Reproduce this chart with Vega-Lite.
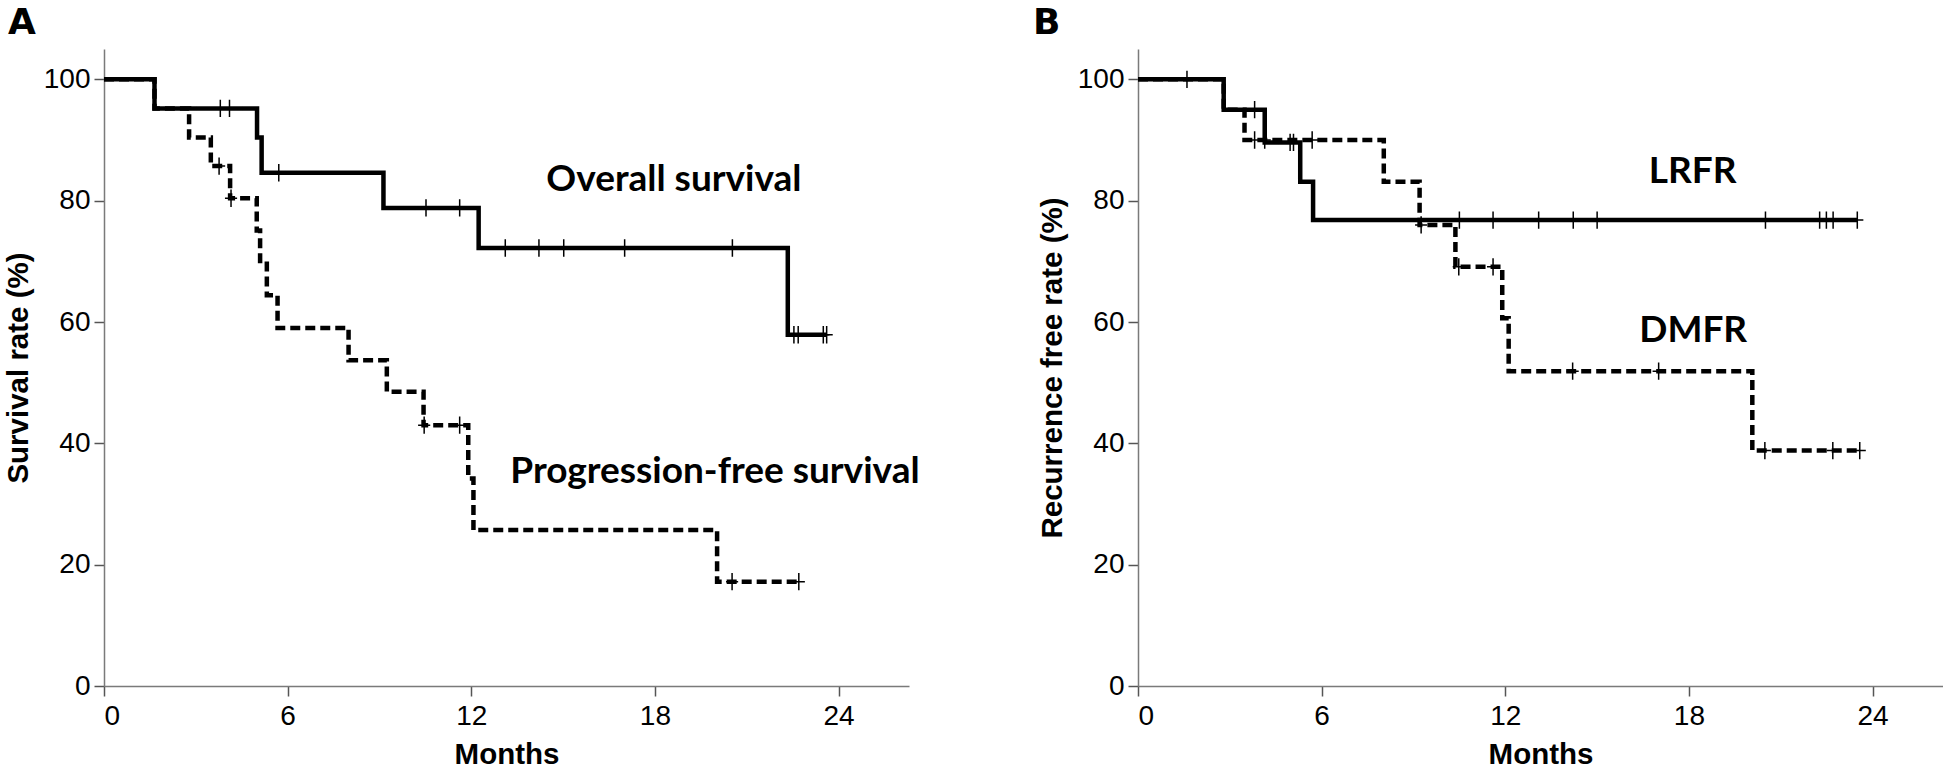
{
  "$schema": "https://vega.github.io/schema/vega-lite/v6.json",
  "background": "white",
  "padding": {"left": 3, "top": 5, "right": 0, "bottom": 0},
  "spacing": 229,
  "bounds": "flush",
  "config": {
    "view": {"stroke": null},
    "axis": {
      "domainColor": "#7a7a7a", "domainWidth": 1.5,
      "tickColor": "#555555", "tickWidth": 1.5, "tickSize": 10,
      "labelFont": "Liberation Sans", "labelFontSize": 28, "labelColor": "black",
      "titleFont": "Liberation Sans", "titleFontSize": 29.5, "titleFontWeight": "bold", "titleColor": "black",
      "grid": false
    },
    "axisX": {"labelPadding": 6, "titlePadding": 10},
    "axisY": {"labelPadding": 4, "titlePadding": 10}
  },
  "datasets": {
    "A_curves": [
      {"series": "OS", "t": 0, "s": 100},
      {"series": "OS", "t": 1.65, "s": 95.2},
      {"series": "OS", "t": 5.0, "s": 90.4},
      {"series": "OS", "t": 5.15, "s": 84.6},
      {"series": "OS", "t": 9.13, "s": 78.8},
      {"series": "OS", "t": 12.24, "s": 72.2},
      {"series": "OS", "t": 22.34, "s": 57.9},
      {"series": "OS", "t": 23.61, "s": 57.9},
      {"series": "PFS", "t": 0, "s": 100},
      {"series": "PFS", "t": 1.65, "s": 95.2},
      {"series": "PFS", "t": 2.78, "s": 90.4},
      {"series": "PFS", "t": 3.49, "s": 85.7},
      {"series": "PFS", "t": 4.12, "s": 80.4},
      {"series": "PFS", "t": 4.99, "s": 75.1},
      {"series": "PFS", "t": 5.1, "s": 69.6},
      {"series": "PFS", "t": 5.32, "s": 64.4},
      {"series": "PFS", "t": 5.67, "s": 59.0},
      {"series": "PFS", "t": 7.99, "s": 53.7},
      {"series": "PFS", "t": 9.24, "s": 48.5},
      {"series": "PFS", "t": 10.44, "s": 43.0},
      {"series": "PFS", "t": 11.9, "s": 34.2},
      {"series": "PFS", "t": 12.07, "s": 25.7},
      {"series": "PFS", "t": 20.03, "s": 17.2},
      {"series": "PFS", "t": 22.7, "s": 17.2}
    ],
    "A_censor": [
      {"series": "OS", "t": 3.8, "s": 95.2},
      {"series": "OS", "t": 4.1, "s": 95.2},
      {"series": "OS", "t": 5.71, "s": 84.6},
      {"series": "OS", "t": 10.52, "s": 78.8},
      {"series": "OS", "t": 11.62, "s": 78.8},
      {"series": "OS", "t": 13.11, "s": 72.2},
      {"series": "OS", "t": 14.21, "s": 72.2},
      {"series": "OS", "t": 15.02, "s": 72.2},
      {"series": "OS", "t": 17.01, "s": 72.2},
      {"series": "OS", "t": 20.53, "s": 72.2},
      {"series": "OS", "t": 22.54, "s": 57.9},
      {"series": "OS", "t": 22.68, "s": 57.9},
      {"series": "OS", "t": 23.5, "s": 57.9},
      {"series": "OS", "t": 23.61, "s": 57.9},
      {"series": "PFS", "t": 3.76, "s": 85.7},
      {"series": "PFS", "t": 4.15, "s": 80.4},
      {"series": "PFS", "t": 10.46, "s": 43.0},
      {"series": "PFS", "t": 11.62, "s": 43.0},
      {"series": "PFS", "t": 20.52, "s": 17.2},
      {"series": "PFS", "t": 22.7, "s": 17.2}
    ],
    "A_labels": [
      {"label": "Overall survival", "t": 18.62, "s": 83.4},
      {"label": "Progression-free survival", "t": 19.96, "s": 35.2}
    ],
    "B_curves": [
      {"series": "LRFR", "t": 0, "s": 100},
      {"series": "LRFR", "t": 2.8, "s": 95.0},
      {"series": "LRFR", "t": 4.14, "s": 89.6},
      {"series": "LRFR", "t": 5.3, "s": 83.1},
      {"series": "LRFR", "t": 5.72, "s": 76.8},
      {"series": "LRFR", "t": 23.5, "s": 76.8},
      {"series": "DMFR", "t": 0, "s": 100},
      {"series": "DMFR", "t": 2.8, "s": 95.0},
      {"series": "DMFR", "t": 3.48, "s": 90.0},
      {"series": "DMFR", "t": 8.03, "s": 83.1},
      {"series": "DMFR", "t": 9.2, "s": 76.0},
      {"series": "DMFR", "t": 10.37, "s": 69.1},
      {"series": "DMFR", "t": 11.9, "s": 60.6},
      {"series": "DMFR", "t": 12.11, "s": 51.9},
      {"series": "DMFR", "t": 20.07, "s": 38.8},
      {"series": "DMFR", "t": 23.58, "s": 38.8}
    ],
    "B_censor": [
      {"series": "LRFR", "t": 1.6, "s": 100},
      {"series": "LRFR", "t": 3.81, "s": 95.0},
      {"series": "LRFR", "t": 4.97, "s": 89.6},
      {"series": "LRFR", "t": 5.08, "s": 89.6},
      {"series": "LRFR", "t": 10.5, "s": 76.8},
      {"series": "LRFR", "t": 11.6, "s": 76.8},
      {"series": "LRFR", "t": 13.09, "s": 76.8},
      {"series": "LRFR", "t": 14.22, "s": 76.8},
      {"series": "LRFR", "t": 15.0, "s": 76.8},
      {"series": "LRFR", "t": 20.5, "s": 76.8},
      {"series": "LRFR", "t": 22.27, "s": 76.8},
      {"series": "LRFR", "t": 22.49, "s": 76.8},
      {"series": "LRFR", "t": 22.71, "s": 76.8},
      {"series": "LRFR", "t": 23.5, "s": 76.8},
      {"series": "DMFR", "t": 3.81, "s": 90.0},
      {"series": "DMFR", "t": 4.14, "s": 90.0},
      {"series": "DMFR", "t": 5.69, "s": 90.0},
      {"series": "DMFR", "t": 9.25, "s": 76.0},
      {"series": "DMFR", "t": 10.48, "s": 69.1},
      {"series": "DMFR", "t": 11.6, "s": 69.1},
      {"series": "DMFR", "t": 14.2, "s": 51.9},
      {"series": "DMFR", "t": 17.01, "s": 51.9},
      {"series": "DMFR", "t": 20.48, "s": 38.8},
      {"series": "DMFR", "t": 22.7, "s": 38.8},
      {"series": "DMFR", "t": 23.58, "s": 38.8}
    ],
    "B_labels": [
      {"label": "LRFR", "t": 18.12, "s": 84.7},
      {"label": "DMFR", "t": 18.14, "s": 58.5}
    ]
  },
  "hconcat": [
    {
      "title": {"text": "A", "anchor": "start", "frame": "group", "dx": -96, "offset": -21, "baseline": "alphabetic", "font": "DejaVu Sans", "fontSize": 36, "fontWeight": "bold", "color": "black"},
      "width": 805,
      "height": 637,
      "encoding": {
        "x": {"field": "t", "type": "quantitative", "scale": {"domain": [0, 26.3], "nice": false, "zero": false}, "axis": {"values": [0, 6, 12, 18, 24], "title": "Months"}},
        "y": {"field": "s", "type": "quantitative", "scale": {"domain": [0, 105], "nice": false}, "axis": {"values": [0, 20, 40, 60, 80, 100], "title": "Survival rate (%)"}}
      },
      "layer": [
        {
          "data": {"name": "A_curves"},
          "mark": {"type": "line", "interpolate": "step-after", "strokeWidth": 4.5, "color": "black"},
          "encoding": {
            "strokeDash": {"field": "series", "type": "nominal", "scale": {"domain": ["OS", "PFS"], "range": [[1, 0], [10, 5]]}, "legend": null}
          }
        },
        {
          "data": {"name": "A_censor"},
          "mark": {"type": "point", "shape": "M-0.7,0H0.7M0,-1V1", "filled": false, "stroke": "black", "strokeWidth": 1.5, "size": 300, "opacity": 1}
        },
        {
          "data": {"name": "A_labels"},
          "mark": {"type": "text", "font": "Lato", "fontWeight": "bold", "fontSize": 37, "align": "center", "baseline": "middle", "color": "black"},
          "encoding": {"text": {"field": "label", "type": "nominal"}}
        }
      ]
    },
    {
      "title": {"text": "B", "anchor": "start", "frame": "group", "dx": -105, "offset": -21, "baseline": "alphabetic", "font": "DejaVu Sans", "fontSize": 36, "fontWeight": "bold", "color": "black"},
      "width": 805,
      "height": 637,
      "encoding": {
        "x": {"field": "t", "type": "quantitative", "scale": {"domain": [0, 26.3], "nice": false, "zero": false}, "axis": {"values": [0, 6, 12, 18, 24], "title": "Months"}},
        "y": {"field": "s", "type": "quantitative", "scale": {"domain": [0, 105], "nice": false}, "axis": {"values": [0, 20, 40, 60, 80, 100], "title": "Recurrence free rate (%)"}}
      },
      "layer": [
        {
          "data": {"name": "B_curves"},
          "mark": {"type": "line", "interpolate": "step-after", "strokeWidth": 4.5, "color": "black"},
          "encoding": {
            "strokeDash": {"field": "series", "type": "nominal", "scale": {"domain": ["LRFR", "DMFR"], "range": [[1, 0], [10, 5]]}, "legend": null}
          }
        },
        {
          "data": {"name": "B_censor"},
          "mark": {"type": "point", "shape": "M-0.7,0H0.7M0,-1V1", "filled": false, "stroke": "black", "strokeWidth": 1.5, "size": 300, "opacity": 1}
        },
        {
          "data": {"name": "B_labels"},
          "mark": {"type": "text", "font": "Lato", "fontWeight": "bold", "fontSize": 37, "align": "center", "baseline": "middle", "color": "black"},
          "encoding": {"text": {"field": "label", "type": "nominal"}}
        }
      ]
    }
  ]
}
